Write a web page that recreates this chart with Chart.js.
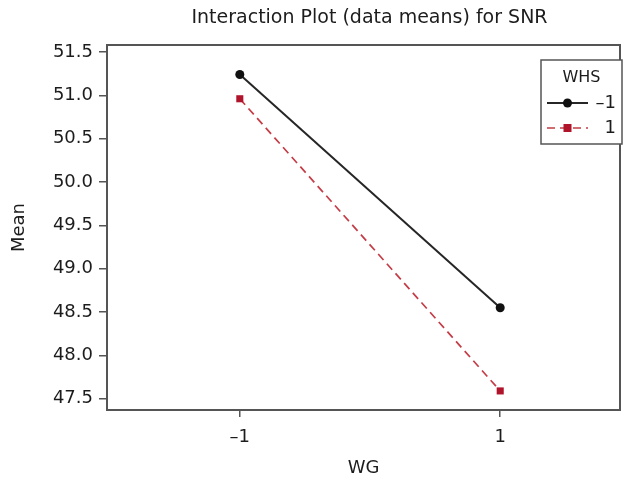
<!DOCTYPE html>
<html>
<head>
<meta charset="utf-8">
<script src="https://cdn.jsdelivr.net/npm/chart.js@4.4.1/dist/chart.umd.min.js"></script>
<style>
html,body{margin:0;padding:0;background:#fff;}
#wrap{width:625px;height:482px;position:relative;}
</style>
</head>
<body>
<div id="wrap"><canvas id="c" width="625" height="482"></canvas></div>
<script>
// ---- data ----
const chartTitle = 'Interaction Plot (data means) for SNR';
const xLevels = [-1, 1];                 // WG levels
const xTickLabels = ['–1', '1'];
const legendTitle = 'WHS';
const seriesNames = ['–1', '1'];         // WHS levels
const meansWhsNeg = [51.24, 48.55];
const meansWhsPos = [50.96, 47.59];
const yTicks = [47.5, 48.0, 48.5, 49.0, 49.5, 50.0, 50.5, 51.0, 51.5];
const xAxisTitle = 'WG';
const yAxisTitle = 'Mean';

const FONT = "'DejaVu Sans', 'Liberation Sans', Arial, sans-serif";
const TXT = '#1c1c1c';

const toPts = (ys) => xLevels.map((x, i) => ({x: x, y: ys[i]}));

const deco = {
  id: 'deco',
  beforeDatasetsDraw(chart) {
    const {ctx, chartArea: a} = chart;
    ctx.save();
    ctx.strokeStyle = '#555';
    ctx.lineWidth = 2;
    ctx.strokeRect(a.left, a.top, a.right - a.left, a.bottom - a.top);
    ctx.restore();
  },
  afterDraw(chart) {
    const {ctx, chartArea: a} = chart;
    ctx.save();
    // title
    ctx.fillStyle = TXT;
    ctx.font = '19px ' + FONT;
    ctx.textAlign = 'center';
    ctx.textBaseline = 'middle';
    ctx.fillText(chartTitle, (a.left + a.right) / 2 + 6, 18);
    // legend box
    const bx = 541, by = 60, bw = 81, bh = 84;
    ctx.fillStyle = '#fff';
    ctx.fillRect(bx, by, bw, bh);
    ctx.strokeStyle = '#555';
    ctx.lineWidth = 1.5;
    ctx.strokeRect(bx, by, bw, bh);
    ctx.fillStyle = TXT;
    ctx.font = '16px ' + FONT;
    ctx.fillText(legendTitle, bx + bw / 2, by + 18);
    chart.data.datasets.forEach((ds, i) => {
      const y = by + 43 + i * 25;
      const x0 = bx + 6, x1 = bx + 47, xm = (x0 + x1) / 2;
      ctx.save();
      ctx.strokeStyle = ds.borderColor;
      ctx.lineWidth = ds.borderWidth;
      ctx.setLineDash(ds.borderDash || []);
      ctx.beginPath(); ctx.moveTo(x0, y); ctx.lineTo(x1, y); ctx.stroke();
      ctx.restore();
      ctx.fillStyle = ds.pointBackgroundColor;
      if (ds.pointStyle === 'rect') {
        const s = ds.pointRadius * 1.6;
        ctx.fillRect(xm - s / 2, y - s / 2, s, s);
      } else {
        ctx.beginPath(); ctx.arc(xm, y, ds.pointRadius, 0, Math.PI * 2); ctx.fill();
      }
      ctx.fillStyle = TXT;
      ctx.font = '18px ' + FONT;
      ctx.textAlign = 'right';
      ctx.fillText(ds.label, bx + bw - 6, y);
      ctx.textAlign = 'center';
    });
    ctx.restore();
  }
};

new Chart(document.getElementById('c'), {
  type: 'line',
  data: {
    datasets: [
      {
        label: seriesNames[0],
        data: toPts(meansWhsNeg),
        borderColor: '#262626',
        borderWidth: 2,
        pointBackgroundColor: '#111',
        pointBorderColor: '#111',
        pointStyle: 'circle',
        pointRadius: 4.5,
        pointBorderWidth: 0,
        tension: 0,
        fill: false
      },
      {
        label: seriesNames[1],
        data: toPts(meansWhsPos),
        borderColor: '#c43c46',
        borderWidth: 1.7,
        borderDash: [8, 5],
        pointBackgroundColor: '#b0142a',
        pointBorderColor: '#b0142a',
        pointStyle: 'rect',
        pointRadius: 5,
        pointBorderWidth: 0,
        tension: 0,
        fill: false
      }
    ]
  },
  options: {
    responsive: false,
    animation: false,
    events: [],
    layout: {padding: {top: 45, right: 2, left: 0, bottom: 0}},
    plugins: {legend: {display: false}, title: {display: false}, tooltip: {enabled: false}},
    scales: {
      x: {
        type: 'linear',
        min: -2.02,
        max: 1.92,
        afterBuildTicks: (s) => { s.ticks = xLevels.map(v => ({value: v})); },
        afterFit: (s) => { s.height = 72; },
        ticks: {
          callback: (v) => xTickLabels[xLevels.indexOf(v)],
          color: TXT,
          font: {family: FONT, size: 18},
          padding: 10,
          maxRotation: 0
        },
        grid: {drawOnChartArea: false, drawTicks: true, tickLength: 7, color: '#555', lineWidth: 1.5},
        border: {display: true, color: '#555', width: 2},
        title: {display: true, text: xAxisTitle, color: TXT, font: {family: FONT, size: 18}, padding: {top: 0, bottom: 3}}
      },
      y: {
        type: 'linear',
        min: 47.37,
        max: 51.58,
        afterBuildTicks: (s) => { s.ticks = yTicks.map(v => ({value: v})); },
        afterFit: (s) => { s.width = 107; },
        ticks: {
          callback: (v) => v.toFixed(1),
          color: TXT,
          font: {family: FONT, size: 18},
          padding: 6
        },
        grid: {drawOnChartArea: false, drawTicks: true, tickLength: 8, color: '#555', lineWidth: 1.5},
        border: {display: true, color: '#555', width: 2},
        title: {display: true, text: yAxisTitle, color: TXT, font: {family: FONT, size: 18}, padding: {top: 9, bottom: 0}}
      }
    }
  },
  plugins: [deco]
});
</script>
</body>
</html>
